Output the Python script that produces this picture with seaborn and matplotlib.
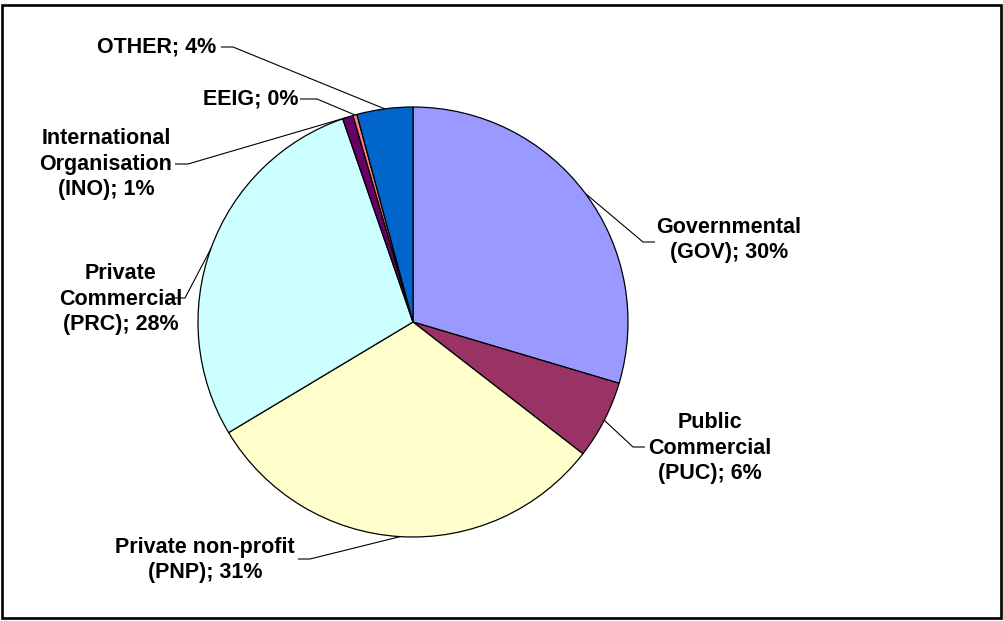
import numpy as np
import matplotlib
matplotlib.use("Agg")
import matplotlib.pyplot as plt
import matplotlib.patches as mpatches
import seaborn as sns

# ---- data ----
categories = ["Governmental\n(GOV)", "Public\nCommercial\n(PUC)", "Private non-profit\n(PNP)",
              "Private\nCommercial\n(PRC)", "International\nOrganisation\n(INO)", "EEIG", "OTHER"]
values = [29.6, 5.9, 30.9, 28.3, 0.8, 0.3, 4.2]
colors = ["#9999FF", "#993366", "#FFFFCC", "#CCFFFF", "#660066", "#FF8080", "#0066CC"]

# ---- layout (pixel coordinates, y measured from top) ----
W, H = 1004, 621
pie_center_px = (413, 322)
pie_radius_px = 215
label_pos = [(729, 240), (710, 448), (205, 560), (121, 299), (106, 164), (251, 99), (157, 47)]
knee_near = [(655, 242), (645, 447), (298, 559), (172, 298), (175, 164), (300, 99), (221, 47)]
knee_far = [(643, 242), (633, 447), (310, 559), (185, 298), (188, 164), (317, 99), (233, 47)]

sns.set_theme(style="white")
plt.rcParams["font.family"] = ["Liberation Sans", "DejaVu Sans"]

fig = plt.figure(figsize=(W / 100, H / 100), dpi=100)
ax = fig.add_axes([0, 0, 1, 1])
ax.set_xlim(0, W)
ax.set_ylim(0, H)
ax.set_aspect("equal")
ax.axis("off")

def fy(y):
    return H - y

cx, cy = pie_center_px[0], fy(pie_center_px[1])
wedges, _ = ax.pie(values, colors=colors, startangle=90, counterclock=False,
                   center=(cx, cy), radius=pie_radius_px,
                   wedgeprops=dict(edgecolor="black", linewidth=0.9))
ax.set_xlim(0, W)
ax.set_ylim(0, H)

total = sum(values)
cum = np.cumsum([0] + values[:-1])
for i, (cat, v) in enumerate(zip(categories, values)):
    mid = (cum[i] + v / 2) / total
    theta = np.deg2rad(90 - 360 * mid)
    ex = cx + pie_radius_px * np.cos(theta)
    ey = cy + pie_radius_px * np.sin(theta)
    kx1, ky1 = knee_near[i]
    kx2, ky2 = knee_far[i]
    ax.plot([kx1, kx2, ex], [fy(ky1), fy(ky2), ey], color="black", lw=0.8,
            solid_capstyle="butt")
    txt = f"{cat}; {round(v)}%"
    lx, ly = label_pos[i]
    ax.text(lx, fy(ly), txt, ha="center", va="center", multialignment="center",
            fontsize=15.5, fontweight="bold", color="black", linespacing=1.3)

border = mpatches.Rectangle((2.5, fy(618.5)), 999, 614, fill=False,
                            edgecolor="black", linewidth=1.9)
ax.add_patch(border)

fig.savefig("out.png", dpi=100, facecolor="white")
